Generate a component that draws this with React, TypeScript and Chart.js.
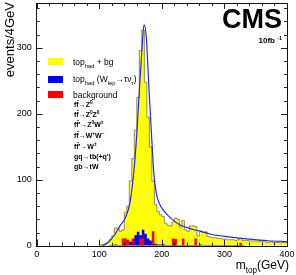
import React, { useEffect, useRef } from 'react';
import { Chart, registerables } from 'chart.js';
Chart.register(...registerables);

// ---------- data ----------
const BIN_START = 100; // GeV, first bin lower edge
const BIN_WIDTH = 4; // GeV per bin
// top_had + bg (events / 4 GeV), bins from 100 to 400 GeV
const signalPlusBg = [
  0, 1, 2, 3, 5, 9, 15, 27, 26, 22,
  24, 51, 60, 98, 132, 175, 225, 296, 327, 248,
  195, 150, 98, 62, 52, 47, 44, 34, 31, 30,
  36, 42, 40, 28, 38, 24, 22, 30, 30, 29,
  15, 22, 20, 21, 14, 13, 12, 12, 11, 11,
  10, 10, 9, 9, 9, 8, 9, 11, 8, 8,
  8, 7, 7, 7, 7, 6, 6, 6, 5, 6,
  5, 5, 5, 4, 5,
];
// top_had (W_lep -> tau nu_tau)
const tauChannel = [
  0, 0, 0, 0, 0, 1, 1, 2, 1, 1,
  2, 3, 4, 6, 10, 16, 21, 16, 24, 18,
  11, 8, 4, 3, 2, 2, 2, 1, 1, 1,
  1, 1, 1, 1, 1, 1, 1, 1, 1, 1,
  1, 2, 1, 1, 1, 1, 1, 1, 1, 1,
  1, 1, 1, 1, 1, 1, 1, 1, 1, 0,
  0, 0, 0, 0, 0, 0, 0, 0, 0, 0,
  0, 0, 0, 0, 0,
];
// background
const background = [
  0, 0, 0, 0, 0, 0, 0, 0, 0, 0,
  11, 11, 9, 0, 11, 0, 0, 11, 11, 0,
  0, 0, 22, 0, 0, 0, 3, 0, 0, 0,
  11, 10, 0, 0, 11, 0, 0, 0, 0, 11,
  0, 0, 0, 0, 0, 0, 0, 0, 0, 0,
  0, 0, 0, 0, 0, 0, 0, 4, 0, 0,
  0, 0, 0, 0, 0, 0, 0, 0, 0, 0,
  0, 0, 0, 0, 0,
];
// fitted curve
const fitMass = [104, 110, 118, 125, 133, 141, 149, 155, 160, 164, 168, 171.5, 175, 178, 181, 184, 187, 191, 196, 204, 215, 230, 245, 261, 280, 307, 340, 370, 400];
const fitValue = [0, 2, 9, 17, 30, 41, 65, 110, 170, 235, 295, 335, 318, 265, 210, 160, 112, 80, 64, 52, 41, 31, 26, 22, 17, 13.5, 10, 7.5, 6];

const xTickLabels = [0, 100, 200, 300, 400];
const yTickLabels = [0, 100, 200, 300];
const X_MIN = 0, X_MAX = 400, X_MINOR = 20, X_MAJOR = 100;
const Y_MIN = 0, Y_MAX = 368, Y_MINOR = 20, Y_MAJOR = 100;

type Seg = { t: string; k?: 'sub' | 'sup' };
const legendMain: Seg[][] = [
  [{ t: 'top' }, { t: 'had', k: 'sub' }, { t: ' + bg' }],
  [{ t: 'top' }, { t: 'had', k: 'sub' }, { t: ' (W' }, { t: 'lep', k: 'sub' }, { t: '→τν' }, { t: 'τ', k: 'sub' }, { t: ')' }],
  [{ t: 'background' }],
];
const legendColors = ['#ffff00', '#0000ff', '#ff0000'];
const legendProcesses: Seg[][] = [
  [{ t: 'ff̄→Z' }, { t: '0', k: 'sup' }],
  [{ t: 'ff̄→Z' }, { t: '0', k: 'sup' }, { t: 'Z' }, { t: '0', k: 'sup' }],
  [{ t: "ff̄'→Z" }, { t: '0', k: 'sup' }, { t: 'W' }, { t: '±', k: 'sup' }],
  [{ t: 'ff̄→W' }, { t: '+', k: 'sup' }, { t: 'W' }, { t: '−', k: 'sup' }],
  [{ t: "ff̄'→W" }, { t: '±', k: 'sup' }],
  [{ t: "gq→tb(+q')" }],
  [{ t: 'gb→tW' }],
];
const yTitle = 'events/4GeV';
const xTitle: Seg[] = [{ t: 'm' }, { t: 'top', k: 'sub' }, { t: '(GeV)' }];
const expLabel = 'CMS';
const lumiLabel: Seg[] = [{ t: '10fb ' }, { t: '-1', k: 'sup' }];

// ---------- helpers ----------
const FONT = '"Liberation Sans", Arial, Helvetica, sans-serif';

function stepData(vals: number[]) {
  const pts = vals.map((v, i) => ({ x: BIN_START + i * BIN_WIDTH, y: v }));
  pts.push({ x: BIN_START + vals.length * BIN_WIDTH, y: vals[vals.length - 1] });
  return pts;
}

function richWidth(ctx: CanvasRenderingContext2D, segs: Seg[], size: number, bold: boolean) {
  let w = 0;
  for (const s of segs) {
    const fs = s.k ? size * 0.68 : size;
    ctx.font = `${bold ? 'bold ' : ''}${fs}px ${FONT}`;
    w += ctx.measureText(s.t).width;
  }
  return w;
}

function drawRich(ctx: CanvasRenderingContext2D, x: number, y: number, segs: Seg[], size: number, bold = false) {
  let cx = x;
  for (const s of segs) {
    const fs = s.k ? size * 0.68 : size;
    ctx.font = `${bold ? 'bold ' : ''}${fs}px ${FONT}`;
    const dy = s.k === 'sub' ? size * 0.3 : s.k === 'sup' ? -size * 0.42 : 0;
    ctx.fillText(s.t, cx, y + dy);
    cx += ctx.measureText(s.t).width;
  }
}

const decorPlugin = {
  id: 'decor',
  afterDatasetsDraw(chart: any) {
    const { ctx, chartArea: a, scales } = chart;
    const xs = scales.x, ys = scales.y;
    ctx.save();
    // ticks on all four sides, pointing inward
    ctx.strokeStyle = '#222';
    ctx.lineWidth = 1;
    ctx.beginPath();
    for (let v = X_MIN; v <= X_MAX; v += X_MINOR) {
      const px = Math.round(xs.getPixelForValue(v)) + 0.5;
      const len = v % X_MAJOR === 0 ? 6 : 3;
      ctx.moveTo(px, a.bottom); ctx.lineTo(px, a.bottom - len);
      ctx.moveTo(px, a.top); ctx.lineTo(px, a.top + len);
    }
    for (let v = Y_MIN; v <= Y_MAX; v += Y_MINOR) {
      const py = Math.round(ys.getPixelForValue(v)) + 0.5;
      const len = v % Y_MAJOR === 0 ? 6 : 3;
      ctx.moveTo(a.left, py); ctx.lineTo(a.left + len, py);
      ctx.moveTo(a.right, py); ctx.lineTo(a.right - len, py);
    }
    ctx.stroke();
    ctx.strokeStyle = '#111';
    ctx.strokeRect(Math.round(a.left) - 0.5, Math.round(a.top) + 0.5, Math.round(a.right - a.left) + 1, Math.round(a.bottom - a.top));

    ctx.fillStyle = '#000';
    ctx.textBaseline = 'alphabetic';
    ctx.textAlign = 'left';

    // CMS label
    ctx.font = `bold 27px ${FONT}`;
    ctx.textAlign = 'right';
    ctx.fillText(expLabel, 282, 28);
    ctx.textAlign = 'left';
    const lw = richWidth(ctx, lumiLabel, 8, true);
    drawRich(ctx, 282 - lw, 43, lumiLabel, 8, true);

    // legend
    const boxY = [58, 76, 91];
    const textY = [65, 82, 98];
    legendMain.forEach((segs, i) => {
      ctx.fillStyle = legendColors[i];
      ctx.fillRect(48, boxY[i], 15, 7);
      ctx.fillStyle = '#000';
      drawRich(ctx, 73, textY[i], segs, 8.5);
    });
    const procY = [106.5, 116.5, 127, 138, 148.5, 159, 169];
    legendProcesses.forEach((segs, i) => {
      drawRich(ctx, 74, procY[i], segs, 7, true);
    });

    // axis titles
    const xw = richWidth(ctx, xTitle, 12, false);
    drawRich(ctx, 289 - xw, 269, xTitle, 12);

    ctx.translate(14, 2);
    ctx.rotate(-Math.PI / 2);
    ctx.font = `13px ${FONT}`;
    ctx.textAlign = 'right';
    ctx.fillText(yTitle, 0, 0);
    ctx.restore();
  },
};

export default function App() {
  const ref = useRef<HTMLCanvasElement | null>(null);
  useEffect(() => {
    if (!ref.current) return;
    const chart = new Chart(ref.current, {
      type: 'line',
      data: {
        datasets: [
          {
            label: 'fit',
            data: fitMass.map((m, i) => ({ x: m, y: fitValue[i] })),
            borderColor: '#2626ff',
            borderWidth: 1.2,
            pointRadius: 0,
            fill: false,
            cubicInterpolationMode: 'monotone',
            order: 1,
          },
          {
            label: 'background',
            data: stepData(background),
            stepped: 'after',
            borderWidth: 0,
            borderColor: 'rgba(0,0,0,0)',
            backgroundColor: '#ff0000',
            pointRadius: 0,
            fill: 'origin',
            order: 2,
          },
          {
            label: 'tau',
            data: stepData(tauChannel),
            stepped: 'after',
            borderWidth: 0,
            borderColor: 'rgba(0,0,0,0)',
            backgroundColor: '#0000ff',
            pointRadius: 0,
            fill: 'origin',
            order: 3,
          },
          {
            label: 'top_had + bg',
            data: stepData(signalPlusBg),
            stepped: 'after',
            borderWidth: 1,
            borderColor: '#8f8f5a',
            backgroundColor: '#ffff00',
            pointRadius: 0,
            fill: 'origin',
            order: 4,
          },
        ],
      } as any,
      options: {
        animation: false,
        responsive: false,
        devicePixelRatio: 1,
        layout: { padding: { top: 3, right: 9, left: 0, bottom: 0 } },
        plugins: { legend: { display: false }, tooltip: { enabled: false }, title: { display: false } },
        scales: {
          x: {
            type: 'linear',
            min: X_MIN,
            max: X_MAX,
            afterFit: (s: any) => { s.height = 29.3; s.paddingLeft = 0; s.paddingRight = 0; },
            afterBuildTicks: (s: any) => { s.ticks = xTickLabels.map((v) => ({ value: v })); },
            ticks: { stepSize: X_MAJOR, includeBounds: false, padding: 3, color: '#000', font: { family: FONT, size: 9 } },
            grid: { display: false, drawTicks: false },
            border: { display: false },
          },
          y: {
            type: 'linear',
            min: Y_MIN,
            max: Y_MAX,
            afterFit: (s: any) => { s.width = 36.7; s.paddingTop = 0; s.paddingBottom = 0; },
            afterBuildTicks: (s: any) => { s.ticks = yTickLabels.map((v) => ({ value: v })); },
            ticks: { stepSize: Y_MAJOR, includeBounds: false, padding: 5, color: '#000', font: { family: FONT, size: 9 } },
            grid: { display: false, drawTicks: false },
            border: { display: false },
          },
        },
      } as any,
      plugins: [decorPlugin],
    });
    return () => chart.destroy();
  }, []);
  return (
    <div style={{ position: 'fixed', left: 0, top: 0, width: 296, height: 275, background: '#fff' }}>
      <canvas ref={ref} width={296} height={275} style={{ width: 296, height: 275, display: 'block' }} />
    </div>
  );
}
